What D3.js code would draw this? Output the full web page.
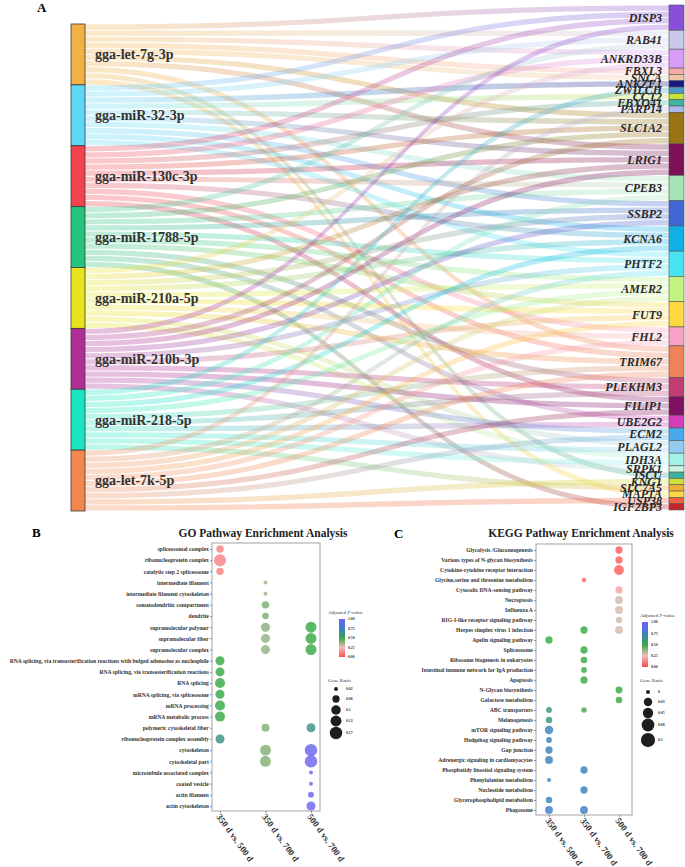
<!DOCTYPE html>
<html>
<head>
<meta charset="utf-8">
<script src="https://cdn.jsdelivr.net/npm/d3@7"></script>
<style>
body { margin: 0; background: #fff; }
svg { display: block; }
text { font-family: "Liberation Serif", "Times New Roman", serif; }
</style>
</head>
<body>
<svg id="fig" width="685" height="867"></svg>
<script>
// ---- panel A: miRNA -> target genes
var mirnas = ["gga-let-7g-3p", "gga-miR-32-3p", "gga-miR-130c-3p", "gga-miR-1788-5p",
	"gga-miR-210a-5p", "gga-miR-210b-3p", "gga-miR-218-5p", "gga-let-7k-5p"];
var mirnaColors = ["#f2b144", "#5fd8f8", "#f2434f", "#27c47f", "#e8e41c", "#b02f96", "#19e6bf", "#f2884f"];
var genes = ["DISP3", "RAB41", "ANKRD33B", "FBXL3", "SNCA", "ANKZF1", "ZWILCH", "CCT2", "FBXO41", "PARP14",
	"SLC1A2", "LRIG1", "CPEB3", "SSBP2", "KCNA6", "PHTF2", "AMER2", "FUT9", "FHL2", "TRIM67", "PLEKHM3",
	"FILIP1", "UBE2G2", "ECM2", "PLAGL2", "IDH3A", "SRPK1", "ISCU", "KNG1", "SLC7A5", "MAP1A", "USP38", "IGF2BP3"];
var geneColors = ["#8a4fd8", "#c9c9e9", "#d99cf7", "#f8a8a8", "#ecc6a6", "#1b1685", "#4a9cc4", "#c4e23c",
	"#3fb49e", "#a9b9ea", "#9a7312", "#7c1157", "#a6e3b4", "#4166d6", "#0fb0e6", "#49e4f4", "#c3f280",
	"#fdd842", "#f9a1c4", "#ef8258", "#c23d74", "#7e1161", "#d63eb9", "#4aa8ec", "#93cbf1", "#a3f2e7",
	"#c8f3e2", "#3fb0a0", "#cfe13a", "#f1ae36", "#fada44", "#f2613f", "#c1272b"];
var mirnaTargets = [
	["DISP3", "RAB41", "ANKRD33B", "FBXL3", "SNCA", "SLC1A2", "LRIG1", "TRIM67", "ISCU", "MAP1A"],
	["DISP3", "RAB41", "ANKZF1", "CCT2", "SLC1A2", "LRIG1", "CPEB3", "SSBP2", "KCNA6", "PHTF2"],
	["DISP3", "ANKRD33B", "FBXO41", "SLC1A2", "LRIG1", "CPEB3", "KCNA6", "FHL2", "TRIM67", "FILIP1"],
	["RAB41", "SLC1A2", "CPEB3", "SSBP2", "PHTF2", "AMER2", "FUT9", "PLEKHM3", "UBE2G2", "IGF2BP3"],
	["ANKRD33B", "LRIG1", "SSBP2", "KCNA6", "AMER2", "FUT9", "FHL2", "TRIM67", "PLAGL2", "IDH3A"],
	["DISP3", "SLC1A2", "LRIG1", "SSBP2", "PHTF2", "FUT9", "PLEKHM3", "FILIP1", "ECM2", "SRPK1"],
	["ZWILCH", "CPEB3", "KCNA6", "AMER2", "TRIM67", "PLEKHM3", "UBE2G2", "PLAGL2", "IDH3A", "SLC7A5"],
	["PARP14", "PHTF2", "AMER2", "FUT9", "FHL2", "TRIM67", "FILIP1", "ECM2", "KNG1", "USP38"]
];

// ---- panels B and C
var comparisons = ["350 d vs. 500 d", "350 d vs. 700 d", "500 d vs. 700 d"];
var pTicks = [1, 0.75, 0.5, 0.25, 0];
var goTerms = ["spliceosomal complex", "ribonucleoprotein complex", "catalytic step 2 spliceosome",
	"intermediate filament", "intermediate filament cytoskeleton", "somatodendritic compartment", "dendrite",
	"supramolecular polymer", "supramolecular fiber", "supramolecular complex",
	"RNA splicing, via transesterification reactions with bulged adenosine as nucleophile",
	"RNA splicing, via transesterification reactions", "RNA splicing", "mRNA splicing, via spliceosome",
	"mRNA processing", "mRNA metabolic process", "polymeric cytoskeletal fiber",
	"ribonucleoprotein complex assembly", "cytoskeleton", "cytoskeletal part",
	"microtubule associated complex", "coated vesicle", "actin filament", "actin cytoskeleton"];
// [term, comparison index, gene ratio, adjusted p]
var goPoints = [
	["spliceosomal complex", 0, 0.062, 0.12], ["ribonucleoprotein complex", 0, 0.157, 0.12],
	["catalytic step 2 spliceosome", 0, 0.062, 0.12],
	["intermediate filament", 1, 0.02, 0.36], ["intermediate filament cytoskeleton", 1, 0.02, 0.36],
	["somatodendritic compartment", 1, 0.062, 0.41], ["dendrite", 1, 0.049, 0.41],
	["supramolecular polymer", 1, 0.09, 0.39], ["supramolecular polymer", 2, 0.13, 0.5],
	["supramolecular fiber", 1, 0.09, 0.38], ["supramolecular fiber", 2, 0.13, 0.5],
	["supramolecular complex", 1, 0.09, 0.38], ["supramolecular complex", 2, 0.13, 0.5],
	["RNA splicing, via transesterification reactions with bulged adenosine as nucleophile", 0, 0.09, 0.5],
	["RNA splicing, via transesterification reactions", 0, 0.09, 0.5],
	["RNA splicing", 0, 0.11, 0.5], ["mRNA splicing, via spliceosome", 0, 0.09, 0.5],
	["mRNA processing", 0, 0.11, 0.5], ["mRNA metabolic process", 0, 0.11, 0.5],
	["polymeric cytoskeletal fiber", 1, 0.071, 0.4], ["polymeric cytoskeletal fiber", 2, 0.09, 0.62],
	["ribonucleoprotein complex assembly", 0, 0.09, 0.62],
	["cytoskeleton", 1, 0.13, 0.4], ["cytoskeleton", 2, 0.17, 0.97],
	["cytoskeletal part", 1, 0.13, 0.4], ["cytoskeletal part", 2, 0.17, 0.97],
	["microtubule associated complex", 2, 0.02, 0.97], ["coated vesicle", 2, 0.02, 0.97],
	["actin filament", 2, 0.041, 0.97], ["actin cytoskeleton", 2, 0.09, 0.97]
];
var goRatioTicks = [0.02, 0.06, 0.1, 0.13, 0.17];

var keggTerms = ["Glycolysis /Gluconeogenesis", "Various types of N-glycan biosynthesis",
	"Cytokine-cytokine receptor interaction", "Glycine,serine and threonine metabolism",
	"Cytosolic DNA-sensing pathway", "Necroptosis", "Influenza A", "RIG-I-like receptor signaling pathway",
	"Herpes simplex virus 1 infection", "Apelin signaling pathway", "Spliceosome",
	"Ribosome biogenesis in eukaryotes", "Intestinal immune network for IgA production", "Apoptosis",
	"N-Glycan biosynthesis", "Galactose metabolism", "ABC transporters", "Melanogenesis",
	"mTOR signaling pathway", "Hedgehog signaling pathway", "Gap junction",
	"Adrenergic signaling in cardiomyocytes", "Phosphatidy linositol signaling system",
	"Phenylalanine metabolism", "Nucleotide metabolism", "Glycerophospholipid metabolism", "Phagosome"];
var keggPoints = [
	["Glycolysis /Gluconeogenesis", 2, 0.02, 0.04], ["Various types of N-glycan biosynthesis", 2, 0.02, 0.04],
	["Cytokine-cytokine receptor interaction", 2, 0.044, 0.04],
	["Glycine,serine and threonine metabolism", 1, 0.003, 0.05],
	["Cytosolic DNA-sensing pathway", 2, 0.02, 0.2], ["Necroptosis", 2, 0.025, 0.29],
	["Influenza A", 2, 0.025, 0.29], ["RIG-I-like receptor signaling pathway", 2, 0.014, 0.29],
	["Herpes simplex virus 1 infection", 1, 0.02, 0.5], ["Herpes simplex virus 1 infection", 2, 0.025, 0.29],
	["Apelin signaling pathway", 0, 0.02, 0.5], ["Spliceosome", 1, 0.02, 0.5],
	["Ribosome biogenesis in eukaryotes", 1, 0.014, 0.5],
	["Intestinal immune network for IgA production", 1, 0.01, 0.5], ["Apoptosis", 1, 0.02, 0.5],
	["N-Glycan biosynthesis", 2, 0.017, 0.5], ["Galactose metabolism", 2, 0.014, 0.5],
	["ABC transporters", 0, 0.01, 0.6], ["ABC transporters", 1, 0.007, 0.48],
	["Melanogenesis", 0, 0.014, 0.6], ["mTOR signaling pathway", 0, 0.03, 0.72],
	["Hedgehog signaling pathway", 0, 0.01, 0.72], ["Gap junction", 0, 0.02, 0.72],
	["Adrenergic signaling in cardiomyocytes", 0, 0.025, 0.72],
	["Phosphatidy linositol signaling system", 1, 0.02, 0.72], ["Phenylalanine metabolism", 0, 0, 0.72],
	["Nucleotide metabolism", 1, 0.02, 0.72], ["Glycerophospholipid metabolism", 0, 0.014, 0.72],
	["Phagosome", 0, 0.025, 0.78], ["Phagosome", 1, 0.025, 0.74]
];
var keggRatioTicks = [0, 0.03, 0.05, 0.08, 0.1];

var svg = d3.select("#fig");
var defs = svg.append("defs");

var pColor = d3.scaleLinear()
	.domain([0, 0.25, 0.5, 0.75, 1])
	.range(["#ff4b4b", "#f1bcbc", "#36a846", "#3c7cc9", "#7161f4"]);

// ================= A: sankey-like links =================
svg.append("text").attr("x", 37).attr("y", 12)
	.style("font-size", "13px").style("font-weight", "bold").text("A");

var leftX0 = 71, leftX1 = 85, rightX0 = 669, rightX1 = 684;
var links = [];
mirnaTargets.forEach(function (ts, i) {
	ts.forEach(function (g) {
		links.push({ s: i, t: genes.indexOf(g) });
	});
});
var total = links.length;
var ySrc = d3.scaleLinear().domain([0, total]).range([24, 511]);
var yTgt = d3.scaleLinear().domain([0, total]).range([5, 510]);

var srcCount = mirnas.map(function (m, i) { return links.filter(function (l) { return l.s === i; }).length; });
var tgtCount = genes.map(function (g, j) { return links.filter(function (l) { return l.t === j; }).length; });
var srcStart = Array.from(d3.cumsum([0].concat(srcCount)));
var tgtStart = Array.from(d3.cumsum([0].concat(tgtCount)));

d3.group(links, function (l) { return l.s; }).forEach(function (arr, i) {
	arr.sort(function (a, b) { return a.t - b.t; }).forEach(function (l, k) { l.sy = srcStart[i] + k; });
});
d3.group(links, function (l) { return l.t; }).forEach(function (arr, j) {
	arr.sort(function (a, b) { return a.s - b.s; }).forEach(function (l, k) { l.ty = tgtStart[j] + k; });
});

var band = function (l) {
	var p = d3.path(),
	xm = (leftX1 + rightX0) / 2,
	a0 = ySrc(l.sy) + 0.45, a1 = ySrc(l.sy + 1) - 0.45,
	b0 = yTgt(l.ty) + 0.45, b1 = yTgt(l.ty + 1) - 0.45;
	p.moveTo(leftX1, a0);
	p.bezierCurveTo(xm, a0, xm, b0, rightX0, b0);
	p.lineTo(rightX0, b1);
	p.bezierCurveTo(xm, b1, xm, a1, leftX1, a1);
	p.closePath();
	return p.toString();
};

links.forEach(function (l, k) {
	var g = defs.append("linearGradient")
		.attr("id", "lg" + k)
		.attr("gradientUnits", "userSpaceOnUse")
		.attr("x1", leftX1).attr("x2", rightX0).attr("y1", 0).attr("y2", 0);
	g.append("stop").attr("offset", "0%").attr("stop-color", mirnaColors[l.s]);
	g.append("stop").attr("offset", "100%").attr("stop-color", geneColors[l.t]);
});

svg.append("g").selectAll("path").data(links).enter().append("path")
	.attr("d", band)
	.attr("fill", function (d, k) { return "url(#lg" + k + ")"; })
	.attr("fill-opacity", 0.3);

svg.append("g").selectAll("rect").data(mirnas).enter().append("rect")
	.attr("x", leftX0).attr("width", leftX1 - leftX0)
	.attr("y", function (d, i) { return ySrc(srcStart[i]); })
	.attr("height", function (d, i) { return ySrc(srcStart[i + 1]) - ySrc(srcStart[i]); })
	.attr("fill", function (d, i) { return mirnaColors[i]; })
	.attr("stroke", "#3a3a3a").attr("stroke-width", 0.8);

svg.append("g").selectAll("text").data(mirnas).enter().append("text")
	.attr("x", 95)
	.attr("y", function (d, i) { return (ySrc(srcStart[i]) + ySrc(srcStart[i + 1])) / 2; })
	.attr("dy", "0.35em")
	.style("font-size", "14px").style("font-weight", "bold").attr("fill", "#333")
	.text(function (d) { return d; });

svg.append("g").selectAll("rect").data(genes).enter().append("rect")
	.attr("x", rightX0).attr("width", rightX1 - rightX0)
	.attr("y", function (d, j) { return yTgt(tgtStart[j]); })
	.attr("height", function (d, j) { return yTgt(tgtStart[j + 1]) - yTgt(tgtStart[j]); })
	.attr("fill", function (d, j) { return geneColors[j]; })
	.attr("stroke", "#555").attr("stroke-width", 0.6);

svg.append("g").selectAll("text").data(genes).enter().append("text")
	.attr("x", 662)
	.attr("y", function (d, j) { return (yTgt(tgtStart[j]) + yTgt(tgtStart[j + 1])) / 2; })
	.attr("dy", "0.35em")
	.attr("text-anchor", "end")
	.style("font-size", "12px").style("font-weight", "bold").style("font-style", "italic")
	.attr("fill", "#2a2a2a")
	.text(function (d) { return d; });

// ================= colour bar gradient =================
var cg = defs.append("linearGradient").attr("id", "pbar")
	.attr("x1", 0).attr("x2", 0).attr("y1", 0).attr("y2", 1);
d3.range(0, 1.001, 0.05).forEach(function (t) {
	cg.append("stop").attr("offset", (t * 100) + "%").attr("stop-color", pColor(1 - t));
});

// ================= dot plot builder =================
var dotPanel = function (opt) {
	var g = svg.append("g");
	var x = d3.scalePoint().domain(comparisons).range(opt.xRange);
	var y = d3.scalePoint().domain(opt.terms).range(opt.yRange);

	g.append("text").attr("x", opt.letter[0]).attr("y", opt.letter[1])
		.style("font-size", "13px").style("font-weight", "bold").text(opt.letterText);
	g.append("text").attr("x", opt.titleX).attr("y", 537).attr("text-anchor", "middle")
		.style("font-size", "11.5px").style("font-weight", "bold").attr("fill", "#222").text(opt.title);

	g.append("rect").attr("x", opt.box[0]).attr("y", opt.box[1])
		.attr("width", opt.box[2] - opt.box[0]).attr("height", opt.box[3] - opt.box[1])
		.attr("fill", "none").attr("stroke", "#b3b3b3").attr("stroke-width", 1.2);

	var ya = g.append("g").attr("transform", "translate(" + opt.box[0] + ",0)")
		.call(d3.axisLeft(y).tickSize(2).tickPadding(1.2));
	ya.select(".domain").remove();
	ya.selectAll("line").attr("stroke", "#555").attr("stroke-width", 0.6);
	ya.selectAll("text").style("font-size", "5.6px").style("font-weight", "bold")
		.style("font-family", "'Liberation Serif', serif").attr("fill", "#333");

	var xa = g.append("g").attr("transform", "translate(0," + opt.box[3] + ")")
		.call(d3.axisBottom(x).tickSize(2));
	xa.select(".domain").remove();
	xa.selectAll("line").attr("stroke", "#555").attr("stroke-width", 0.6);
	xa.selectAll("text")
		.attr("x", 2).attr("y", 4).attr("dy", "0.35em")
		.attr("text-anchor", "start")
		.attr("transform", "rotate(54)")
		.style("font-size", "9px").style("font-weight", "bold")
		.style("font-family", "'Liberation Serif', serif").attr("fill", "#333");

	g.append("g").selectAll("circle").data(opt.points).enter().append("circle")
		.attr("cx", function (d) { return x(comparisons[d[1]]); })
		.attr("cy", function (d) { return y(d[0]); })
		.attr("r", function (d) { return Math.sqrt(opt.area(d[2])); })
		.attr("fill", function (d) { return pColor(d[3]); })
		.attr("fill-opacity", 0.82);

	// legend: adjusted p-value
	var lg = opt.legend;
	var t1 = g.append("text").attr("x", lg.x).attr("y", lg.pTitleY)
		.style("font-size", "5px").attr("fill", "#333");
	t1.append("tspan").text("Adjusted ");
	t1.append("tspan").style("font-style", "italic").text("P");
	t1.append("tspan").text("-value");
	var barY = d3.scaleLinear().domain([1, 0]).range([lg.barTop, lg.barBottom]);
	g.append("rect").attr("x", lg.barX).attr("y", lg.barTop).attr("width", 6)
		.attr("height", lg.barBottom - lg.barTop).attr("fill", "url(#pbar)");
	g.append("g").selectAll("text").data(pTicks).enter().append("text")
		.attr("x", lg.barX + 9).attr("y", function (d) { return barY(d); }).attr("dy", "0.35em")
		.style("font-size", "3.8px").style("font-weight", "bold").attr("fill", "#333")
		.text(function (d) { return d.toFixed(2); });

	// legend: gene ratio
	g.append("text").attr("x", lg.x).attr("y", lg.sizeTitleY)
		.style("font-size", "5px").attr("fill", "#333").text("Gene Ratio");
	g.append("g").selectAll("circle").data(opt.ratioTicks).enter().append("circle")
		.attr("cx", lg.circleX).attr("cy", function (d, i) { return lg.circleY[i]; })
		.attr("r", function (d) { return Math.sqrt(opt.area(d)); })
		.attr("fill", "#1e1e1e");
	g.append("g").selectAll("text").data(opt.ratioTicks).enter().append("text")
		.attr("x", lg.circleX + 10).attr("y", function (d, i) { return lg.circleY[i]; }).attr("dy", "0.35em")
		.style("font-size", "3.8px").style("font-weight", "bold").attr("fill", "#333")
		.text(function (d) { return String(d); });
};

dotPanel({
	letterText: "B", letter: [32, 537],
	title: "GO Pathway Enrichment Analysis", titleX: 263,
	terms: goTerms, points: goPoints, ratioTicks: goRatioTicks,
	box: [212, 543, 320, 811],
	xRange: [220, 311], yRange: [549, 806],
	area: d3.scaleLinear().domain([0.02, 0.17]).range([4, 39]),
	legend: { x: 328, pTitleY: 614, barX: 339, barTop: 619, barBottom: 657,
		sizeTitleY: 682, circleX: 336, circleY: [689, 699, 710, 721, 733] }
});

dotPanel({
	letterText: "C", letter: [394, 538],
	title: "KEGG Pathway Enrichment Analysis", titleX: 581,
	terms: keggTerms, points: keggPoints, ratioTicks: keggRatioTicks,
	box: [536, 544, 632, 815],
	xRange: [549, 619], yRange: [550, 810],
	area: d3.scaleLinear().domain([0, 0.1]).range([4, 50]),
	legend: { x: 640, pTitleY: 617, barX: 642, barTop: 622, barBottom: 667,
		sizeTitleY: 682, circleX: 648, circleY: [692, 702, 713, 725, 740] }
});
</script>
</body>
</html>
